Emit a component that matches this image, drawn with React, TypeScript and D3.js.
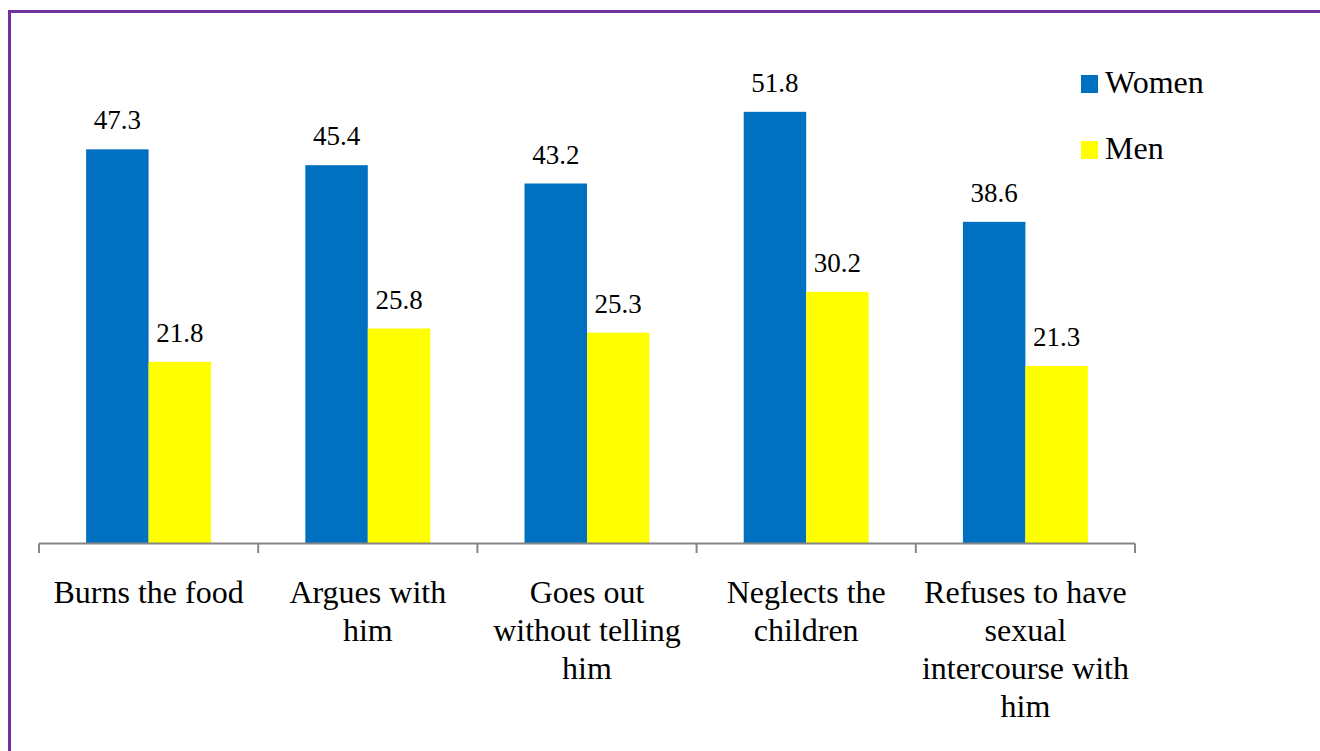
import React from "react";
import * as d3 from "d3";

const categories: string[][] = [
  ["Burns the food"],
  ["Argues with", "him"],
  ["Goes out", "without telling", "him"],
  ["Neglects the", "children"],
  ["Refuses to have", "sexual", "intercourse with", "him"],
];
const women: number[] = [47.3, 45.4, 43.2, 51.8, 38.6];
const men: number[] = [21.8, 25.8, 25.3, 30.2, 21.3];
const seriesNames: string[] = ["Women", "Men"];
const seriesColors: string[] = ["#0070C0", "#FFFF00"];

const W = 1320;
const H = 751;
const SERIF = "Liberation Serif";

export default function App() {
  const x0 = 39;
  const x1 = 1135;
  const baseY = 543.5;

  const xBand = d3
    .scaleBand<number>()
    .domain(d3.range(categories.length))
    .range([x0, x1])
    .paddingInner(0)
    .paddingOuter(0);
  const bw = xBand.bandwidth();
  const barW = bw * 0.285;
  const y = d3.scaleLinear().domain([0, 60]).range([baseY, 43.5]);

  const series = [women, men];
  const ticks = d3.range(categories.length + 1).map((i) => x0 + i * bw);

  return (
    <svg
      width={W}
      height={H}
      fontFamily={SERIF}
      style={{ position: "absolute", left: 0, top: 0, background: "#fff" }}
    >
      <style>{`.chart-text { font-family: "${SERIF}", serif !important; }`}</style>
      <rect x={0} y={0} width={W} height={H} fill="#fff" />
      {/* frame */}
      <path d={`M9.5,${H + 5} V11.5 H${W + 5}`} fill="none" stroke="#7030A0" strokeWidth={3} />

      {/* bars with value labels */}
      {categories.map((_, i) => {
        const cx = (xBand(i) as number) + bw / 2;
        return series.map((vals, s) => {
          const bx = cx - barW + s * barW;
          const v = vals[i];
          return (
            <g key={`${i}-${s}`}>
              <rect
                x={bx}
                y={y(v)}
                width={barW}
                height={baseY - y(v)}
                fill={seriesColors[s]}
              />
              <text
                className="chart-text"
                x={bx + barW / 2}
                y={y(v) - 20}
                textAnchor="middle"
                fontSize={27}
                fill="#000"
              >
                {v.toFixed(1)}
              </text>
            </g>
          );
        });
      })}

      {/* x axis */}
      <line x1={x0} x2={x1} y1={baseY} y2={baseY} stroke="#868686" strokeWidth={2} />
      {ticks.map((t, i) => (
        <line key={i} x1={t} x2={t} y1={baseY} y2={553} stroke="#868686" strokeWidth={2} />
      ))}

      {/* category labels */}
      {categories.map((lines, i) => {
        const cx = (xBand(i) as number) + bw / 2;
        return (
          <text key={i} className="chart-text" textAnchor="middle" fontSize={32} fill="#000">
            {lines.map((l, k) => (
              <tspan key={k} x={cx} y={603 + k * 38}>
                {l}
              </tspan>
            ))}
          </text>
        );
      })}

      {/* legend */}
      {seriesNames.map((name, s) => (
        <g key={name} transform={`translate(1081, ${75 + s * 66})`}>
          <rect x={0} y={0} width={17} height={18} fill={seriesColors[s]} />
          <text className="chart-text" x={24} y={18} fontSize={32} fill="#000">
            {name}
          </text>
        </g>
      ))}
    </svg>
  );
}
